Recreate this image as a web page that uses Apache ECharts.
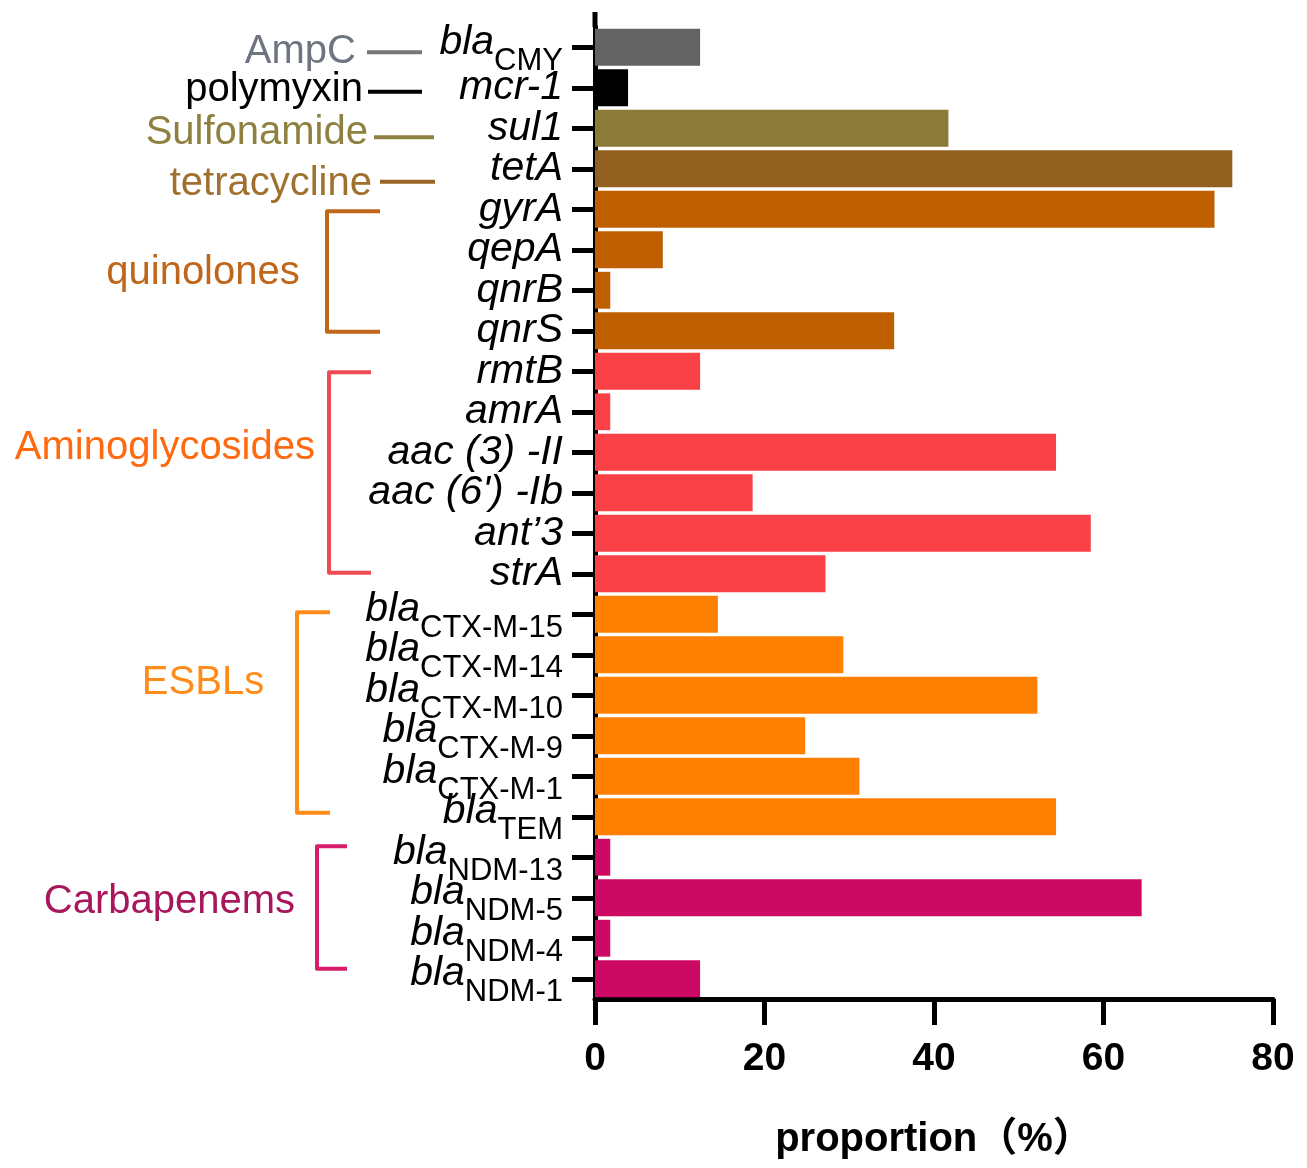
<!DOCTYPE html>
<html>
<head>
<meta charset="utf-8">
<script src="https://cdn.jsdelivr.net/npm/echarts@6/dist/echarts.min.js"></script>
<style>
html,body{margin:0;padding:0;background:#fff;}
#c{width:1307px;height:1168px;}
</style>
</head>
<body>
<div id="c"></div>
<script>
// ---- data ----
const categories = ['bla_CMY','mcr-1','sul1','tetA','gyrA','qepA','qnrB','qnrS','rmtB','amrA','aac (3) -II',"aac (6') -Ib",'ant\u20193','strA','bla_CTX-M-15','bla_CTX-M-14','bla_CTX-M-10','bla_CTX-M-9','bla_CTX-M-1','bla_TEM','bla_NDM-13','bla_NDM-5','bla_NDM-4','bla_NDM-1'];
const values = [12.4, 3.9, 41.7, 75.2, 73.1, 8.0, 1.8, 35.3, 12.4, 1.8, 54.4, 18.6, 58.5, 27.2, 14.5, 29.3, 52.2, 24.8, 31.2, 54.4, 1.8, 64.5, 1.8, 12.4];
const groupOf = ['AmpC','polymyxin','Sulfonamide','tetracycline','quinolones','quinolones','quinolones','quinolones','Aminoglycosides','Aminoglycosides','Aminoglycosides','Aminoglycosides','Aminoglycosides','Aminoglycosides','ESBLs','ESBLs','ESBLs','ESBLs','ESBLs','ESBLs','Carbapenems','Carbapenems','Carbapenems','Carbapenems'];
const xTicks = [0, 20, 40, 60, 80];
const xTitle = 'proportion\uff08%\uff09';

// ---- styles ----
const barColor = {AmpC:'#636363', polymyxin:'#000000', Sulfonamide:'#8b7b39', tetracycline:'#93611f', quinolones:'#c05f00', Aminoglycosides:'#fa4147', ESBLs:'#ff8000', Carbapenems:'#cc0a64'};
const textColor = {AmpC:'#6e7580', polymyxin:'#000000', Sulfonamide:'#8e8040', tetracycline:'#a0702e', quinolones:'#c0661a', Aminoglycosides:'#ff6a10', ESBLs:'#ff8c1a', Carbapenems:'#a8165c'};
const lineColor = {AmpC:'#777777', polymyxin:'#000000', Sulfonamide:'#8e8040', tetracycline:'#9a6526', quinolones:'#c0661a', Aminoglycosides:'#f04b55', ESBLs:'#ff8c1a', Carbapenems:'#d81b6a'};
const FF = '"Liberation Sans", Arial, "Noto Sans CJK SC", sans-serif';

const chart = echarts.init(document.getElementById('c'), null, {renderer:'canvas'});
chart.setOption({
  animation: false,
  backgroundColor: '#ffffff',
  grid: {left: 595, right: 34, top: 27, bottom: 169, containLabel: false, outerBoundsMode: 'none'},
  xAxis: {
    type: 'value', min: xTicks[0], max: xTicks[xTicks.length-1], interval: 20,
    axisLine: {show: true, lineStyle: {color: '#000', width: 5}},
    axisTick: {show: true, length: 26, lineStyle: {color: '#000', width: 5}},
    splitLine: {show: false},
    axisLabel: {margin: 41, color: '#000', fontSize: 39, fontWeight: 'bold', fontFamily: FF},
    name: xTitle, nameLocation: 'middle', nameGap: 121,
    nameTextStyle: {color: '#000', fontSize: 40, fontWeight: 'bold', fontFamily: FF}
  },
  yAxis: {
    type: 'category', inverse: true, data: categories,
    axisLine: {show: true, lineStyle: {color: '#000', width: 5}},
    axisTick: {show: true, alignWithLabel: true, interval: 0, length: 23, lineStyle: {color: '#000', width: 5}},
    axisLabel: {
      interval: 0, margin: 32, color: '#000', fontFamily: FF, fontStyle: 'italic', fontSize: 41,
      formatter: function (v) {
        if (v.indexOf('bla_') === 0) return '{i|bla}{s|' + v.slice(4) + '}';
        return '{n|' + v + '}';
      },
      rich: {
        n: {fontSize: 41, fontStyle: 'italic', fontFamily: FF, color: '#000'},
        i: {fontSize: 41, fontStyle: 'italic', fontFamily: FF, color: '#000', padding: [4,0,14,0], verticalAlign: 'bottom'},
        s: {fontSize: 31, fontStyle: 'normal', fontFamily: FF, color: '#000', verticalAlign: 'bottom'}
      }
    }
  },
  series: [{
    type: 'bar', barCategoryGap: '9%',
    data: values.map((v, i) => ({value: v, itemStyle: {color: barColor[groupOf[i]]}}))
  }]
});

// ---- annotations positioned from the axes ----
const yP = i => chart.convertToPixel({yAxisIndex: 0}, i);
const x0 = chart.convertToPixel({xAxisIndex: 0}, 0);
const g = [];
// y axis line extension above the first band
g.push({type: 'line', shape: {x1: x0, y1: 12, x2: x0, y2: yP(0) - 20}, style: {stroke: '#000', lineWidth: 5}});

function txt(s, x, y, color, align) {
  g.push({type: 'text', x: x, y: y, style: {text: s, fill: color, font: '40px ' + FF, textAlign: align, textVerticalAlign: 'middle'}});
}
function hline(x1, x2, y, color) {
  g.push({type: 'line', shape: {x1: x1, y1: y, x2: x2, y2: y}, style: {stroke: color, lineWidth: 4}});
}
// single-gene classes: label + short dash
const singles = [
  {name: 'AmpC', idx: 0, tx: 356, ty: 5, l1: 367, l2: 422, ly: 5},
  {name: 'polymyxin', idx: 1, tx: 363, ty: 2, l1: 368, l2: 422, ly: 4},
  {name: 'Sulfonamide', idx: 2, tx: 368, ty: 5, l1: 374, l2: 434, ly: 9},
  {name: 'tetracycline', idx: 3, tx: 372, ty: 15, l1: 380, l2: 435, ly: 13}
];
singles.forEach(s => {
  const y = yP(s.idx);
  txt(s.name, s.tx, y + s.ty, textColor[s.name], 'right');
  hline(s.l1, s.l2, y + s.ly, lineColor[s.name]);
});
// bracketed classes
const brackets = [
  {name: 'quinolones', a: 4, b: 7, bx: 327, arm: 53, dt: 2, db: 1, tx: 203, ty: 273, align: 'center'},
  {name: 'Aminoglycosides', a: 8, b: 13, bx: 329, arm: 42, dt: 1, db: -1, tx: 315, ty: 448, align: 'right'},
  {name: 'ESBLs', a: 14, b: 19, bx: 297, arm: 33, dt: -2, db: -4, tx: 203, ty: 683, align: 'center'},
  {name: 'Carbapenems', a: 20, b: 23, bx: 317, arm: 30, dt: -11, db: -10, tx: 295, ty: 902, align: 'right'}
];
brackets.forEach(b => {
  const yt = yP(b.a) + b.dt, yb = yP(b.b) + b.db, c = lineColor[b.name];
  g.push({type: 'polyline', shape: {points: [[b.bx + b.arm, yt], [b.bx, yt], [b.bx, yb], [b.bx + b.arm, yb]]},
          style: {stroke: c, lineWidth: 4, fill: null, lineJoin: 'round'}});
  txt(b.name, b.tx, b.ty, textColor[b.name], b.align);
});
chart.setOption({graphic: g});
</script>
</body>
</html>
